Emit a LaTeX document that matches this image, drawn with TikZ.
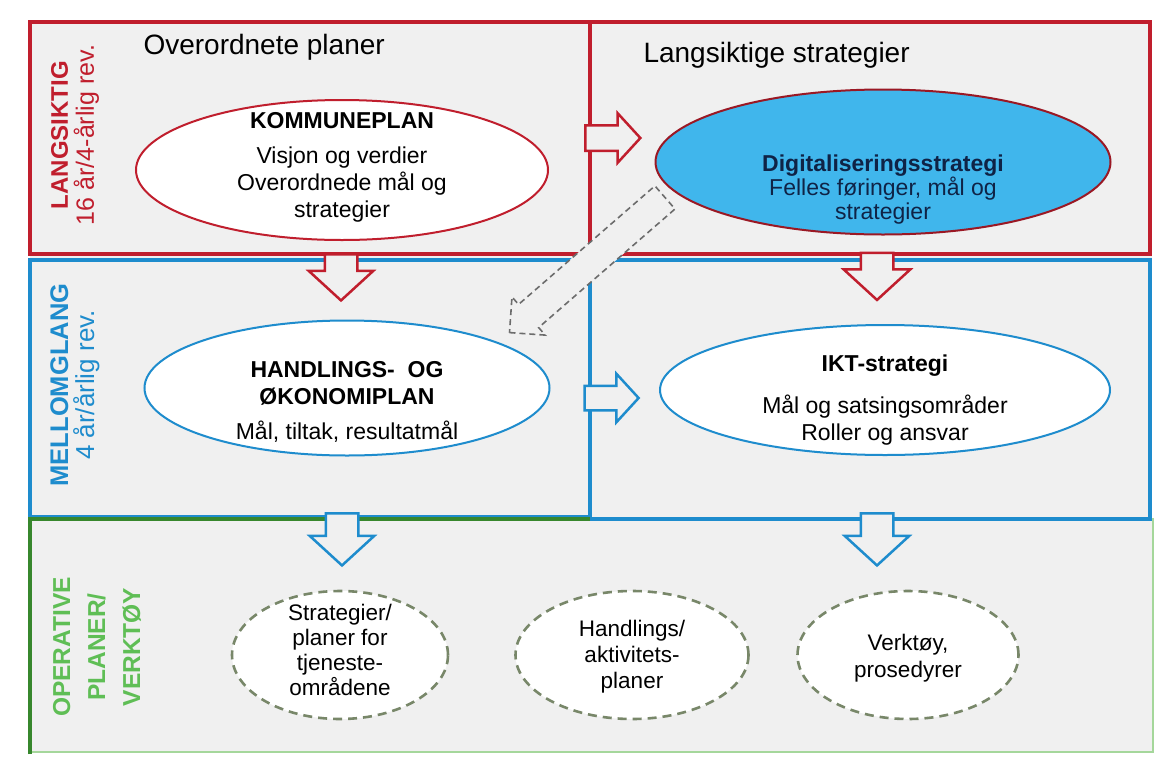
\documentclass[tikz,border=0pt]{standalone}
\usepackage{fontspec}
\setmainfont{Liberation Sans}
\usetikzlibrary{positioning,shapes.geometric,shapes.arrows}
\definecolor{langred}{RGB}{192,30,45}
\definecolor{midblue}{RGB}{30,140,205}
\definecolor{opgreen}{RGB}{55,135,45}
\definecolor{oplight}{RGB}{165,215,155}
\definecolor{optext}{RGB}{95,190,85}
\definecolor{panel}{RGB}{240,240,240}
\definecolor{digfill}{RGB}{64,182,236}
\definecolor{digtext}{RGB}{15,35,70}
\definecolor{dashcol}{RGB}{120,135,105}
\newcommand{\fs}[2]{\fontsize{#1}{#2}\selectfont}

\begin{document}
\begin{tikzpicture}[x=1pt, y=-1pt,
          ell/.style={ellipse, draw, line width=2pt, fill=white, inner sep=0pt},
          dell/.style={ellipse, draw=dashcol, dash pattern=on 9pt off 6pt,
                       line width=2.6pt, fill=white, inner sep=0pt, minimum height=128pt},
          txt/.style={align=center, font=\fs{23}{27}},
          head/.style={anchor=west, font=\fs{28}{32}},
          side/.style={rotate=90, align=center, font=\fs{25}{26}},
          barr/.style n args={3}{single arrow, draw, fill=panel, line width=2.5pt,
                       inner xsep=0pt, inner ysep=#3, minimum height=#1,
                       single arrow head extend=#2, single arrow tip angle=95}]
        \useasboundingbox (0,0) rectangle (1160,756);
        \fill[white] (0,0) rectangle (1160,756);
        \fill[panel] (30,22) rectangle (1152,752);

        % frames
        \draw[oplight, line width=2pt] (30,519) rectangle (1153,752);
        \draw[midblue, line width=4pt] (30,260) rectangle (590,517);
        \draw[midblue, line width=4pt] (590,260) rectangle (1150,519);
        \draw[opgreen, line width=4pt] (30,754) -- (30,519) -- (590,519);
        \draw[langred, line width=4.5pt] (30,22) rectangle (590,254);
        \draw[langred, line width=4.5pt] (590,22) rectangle (1150,254);

        \node[head] (ovp) at (140,47) {Overordnete planer};
        \node[head] (lss) at (640,55) {Langsiktige strategier};

        \node[side, text=langred] (lang) at (75,135) {{\fs{24}{26}\bfseries LANGSIKTIG}\\16 år/4-årlig rev.};
        \node[side, text=midblue] (mell) at (75,385) {{\fs{25.5}{26}\bfseries MELLOMGLANG}\\{\fs{26}{26}4 år/årlig rev.}};
        \node[side, text=optext, font=\bfseries\fs{24.5}{35}] (oper) at (97,647) {OPERATIVE\\PLANER/\\VERKTØY};

        % flow arrows
        \node[barr={206pt}{10pt}{14.5pt}, draw=gray!85!black, dash pattern=on 6pt off 4pt,
              line width=1.6pt, single arrow tip angle=90, rotate=221] (diag) at (593,260) {};
        \node[barr={55pt}{12pt}{11.5pt}, draw=langred] (r1) at (607,138) {};
        \node[barr={46pt}{16pt}{15pt}, draw=langred, rotate=-90] (d1) at (341,270) {};
        \node[barr={47pt}{17pt}{15pt}, draw=langred, rotate=-90] (d2) at (877,269) {};
        \node[barr={54pt}{12pt}{11pt}, draw=midblue] (r2) at (606,398) {};
        \node[barr={52pt}{16pt}{15pt}, draw=midblue, rotate=-90] (d3) at (342,532) {};
        \node[barr={52pt}{16pt}{15pt}, draw=midblue, rotate=-90] (d4) at (877,532) {};

        % plans
        \node[ell, draw=langred, minimum width=412pt, minimum height=140pt] (komm) at (342,170) {};
        \node[ell, draw=langred!80!black, fill=digfill, minimum width=455pt, minimum height=145pt] (dig) at (883,162) {};
        \node[ell, draw=midblue, minimum width=405pt, minimum height=135pt] (hand) at (347,388) {};
        \node[ell, draw=midblue, minimum width=450pt, minimum height=130pt] (ikt) at (885,390) {};

        \node[txt] (kommtxt) at (342,167) {\textbf{KOMMUNEPLAN}\\[8pt]Visjon og verdier\\Overordnede mål og\\strategier};
        \node[txt, text=digtext, font=\fs{23}{24}] (digtxt) at (883,190) {\textbf{Digitaliseringsstrategi}\\Felles føringer, mål og\\strategier};
        \node[txt] (handtxt) at (347,402) {\textbf{HANDLINGS-\ \ OG}\\\textbf{ØKONOMIPLAN}\\[8pt]Mål, tiltak, resultatmål};
        \node[txt] (ikttxt) at (885,400) {\textbf{IKT-strategi}\\[15pt]Mål og satsingsområder\\Roller og ansvar};

        % operative
        \node[dell, minimum width=216pt] (op1) at (340,655) {};
        \node[dell, minimum width=233pt] (op2) at (632,655) {};
        \node[dell, minimum width=221pt] (op3) at (908,655) {};
        \node[txt, font=\fs{22.5}{25}] (op1txt) at (340,650) {Strategier/\\planer for\\tjeneste-\\områdene};
        \node[txt, font=\fs{22.5}{26}] (op2txt) at (632,657) {Handlings/\\aktivitets-\\planer};
        \node[txt, font=\fs{22.5}{27}] (op3txt) at (908,658) {Verktøy,\\prosedyrer};
\end{tikzpicture}
\end{document}
